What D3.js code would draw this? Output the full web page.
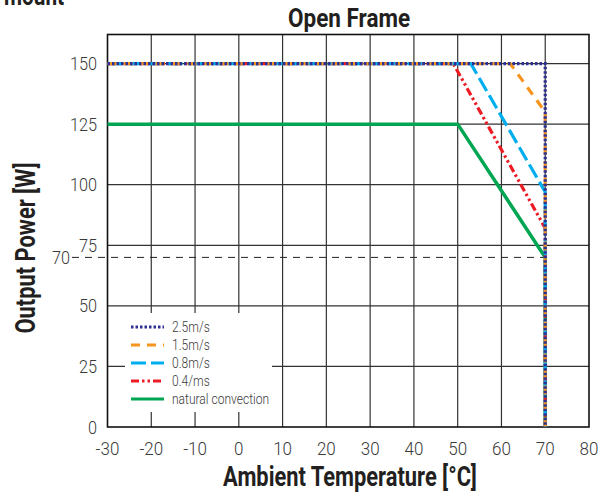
<!DOCTYPE html>
<html lang="en">
<head>
<meta charset="UTF-8">
<title>Open Frame derating</title>
<script src="https://d3js.org/d3.v7.min.js"></script>
<style>
  body { margin: 0; background: #fff; }
  svg text { font-family: Roboto, "Liberation Sans", sans-serif; }
</style>
</head>
<body>
<div id="chart"></div>
<script>
// data
var xTicks = [-30, -20, -10, 0, 10, 20, 30, 40, 50, 60, 70, 80];
var yTicks = [0, 25, 50, 75, 100, 125, 150];
var refLevel = 70; // dashed line with its own label

var seriesNames = ["natural convection", "0.4/ms", "0.8m/s", "1.5m/s", "2.5m/s"];
var seriesColors = ["#00a651", "#ed1c24", "#00aeef", "#f7941d", "#2e3192"];
var seriesDash = [null, "8,3,2.5,3,2.5,3", "15,5", "9,7", "2.5,2"];
// each curve: flat, derating slope, then the drop to 0 at 70 degC
var temps = {
  "2.5m/s":             [-30, 70, 70, 70],
  "1.5m/s":             [-30, 62, 70, 70],
  "0.8m/s":             [-30, 53, 70, 70],
  "0.4/ms":             [-30, 49, 70, 70],
  "natural convection": [-30, 50, 70, 70]
};
var powers = {
  "2.5m/s":             [150, 150, 150, 0],
  "1.5m/s":             [150, 150, 130, 0],
  "0.8m/s":             [150, 150, 97, 0],
  "0.4/ms":             [150, 150, 82, 0],
  "natural convection": [125, 125, 70, 0]
};
// legend order top to bottom
var legendOrder = ["2.5m/s", "1.5m/s", "0.8m/s", "0.4/ms", "natural convection"];

var width = 609, height = 495;
var yMax = 162;
var x = d3.scaleLinear().domain([-30, 80]).range([107.5, 589]);
var y = d3.scaleLinear().domain([0, yMax]).range([427, 34.5]);

var svg = d3.select("#chart").append("svg")
    .attr("width", width)
    .attr("height", height);

// condensed look: squeeze text horizontally
var addText = function(tx, ty, str, size, weight, squeeze, anchor, rot) {
    return svg.append("text")
        .attr("transform", "translate(" + tx + "," + ty + ")" + (rot ? " rotate(" + rot + ")" : "") + " scale(" + squeeze + ",1)")
        .attr("text-anchor", anchor || "start")
        .style("font-size", size + "px")
        .style("font-weight", weight)
        .style("fill", weight === "bold" ? "#231f20" : "#3a3a3a")
        .text(str);
};

// cut-off heading from the page above
addText(4, 5, "mount", 26, "bold", 0.8);

addText(349, 27, "Open Frame", 25, "bold", 0.9, "middle");

// grid
var grid = svg.append("g");
grid.selectAll(".vx").data(xTicks.slice(1, -1)).enter().append("line")
    .attr("x1", function(d) { return x(d); }).attr("x2", function(d) { return x(d); })
    .attr("y1", y(yMax)).attr("y2", y(0))
    .style("stroke", "#333").style("stroke-width", 1.2);
grid.selectAll(".hy").data(yTicks.slice(1)).enter().append("line")
    .attr("x1", x(-30)).attr("x2", x(80))
    .attr("y1", function(d) { return y(d); }).attr("y2", function(d) { return y(d); })
    .style("stroke", "#333").style("stroke-width", 1.2);

// reference dashed line at 70 W
svg.append("line")
    .attr("x1", 72).attr("x2", x(70))
    .attr("y1", y(refLevel)).attr("y2", y(refLevel))
    .style("stroke", "#222").style("stroke-width", 1)
    .style("stroke-dasharray", "7,6");

// white legend panel covers the grid
svg.append("rect")
    .attr("x", 125).attr("y", 313)
    .attr("width", 147).attr("height", 99)
    .style("fill", "#fff");

// frame
svg.append("rect")
    .attr("x", x(-30)).attr("y", y(yMax))
    .attr("width", x(80) - x(-30)).attr("height", y(0) - y(yMax))
    .style("fill", "none").style("stroke", "#111").style("stroke-width", 1.6);

// tick labels
xTicks.forEach(function(d) {
    addText(x(d), 455, d, 18.5, 300, 0.92, "middle");
});
yTicks.forEach(function(d) {
    addText(97, y(d) + 6.5, d, 18.5, 300, 0.88, "end");
});
addText(70, y(refLevel) + 6.5, refLevel, 18.5, 300, 0.88, "end");

// axis titles
addText(350, 486, "Ambient Temperature [°C]", 27, "bold", 0.81, "middle");
addText(35, 248, "Output Power [W]", 27, "bold", 0.81, "middle", -90);

// curves
var line = d3.line()
    .x(function(d) { return x(d[0]); })
    .y(function(d) { return y(d[1]); });

seriesNames.forEach(function(name, i) {
    var pts = temps[name].map(function(t, j) { return [t, powers[name][j]]; });
    svg.append("path")
        .datum(pts)
        .attr("d", line)
        .style("fill", "none")
        .style("stroke", seriesColors[i])
        .style("stroke-width", i === 0 ? 3.5 : 3.2)
        .style("stroke-dasharray", seriesDash[i]);
});

// legend
legendOrder.forEach(function(name, k) {
    var i = seriesNames.indexOf(name);
    var ly = 327 + k * 18;
    svg.append("line")
        .attr("x1", 131).attr("x2", 164)
        .attr("y1", ly).attr("y2", ly)
        .style("stroke", seriesColors[i])
        .style("stroke-width", 3.2)
        .style("stroke-dasharray", seriesDash[i]);
    addText(172, ly + 5, name, 14, 300, 0.86);
});
</script>
</body>
</html>
